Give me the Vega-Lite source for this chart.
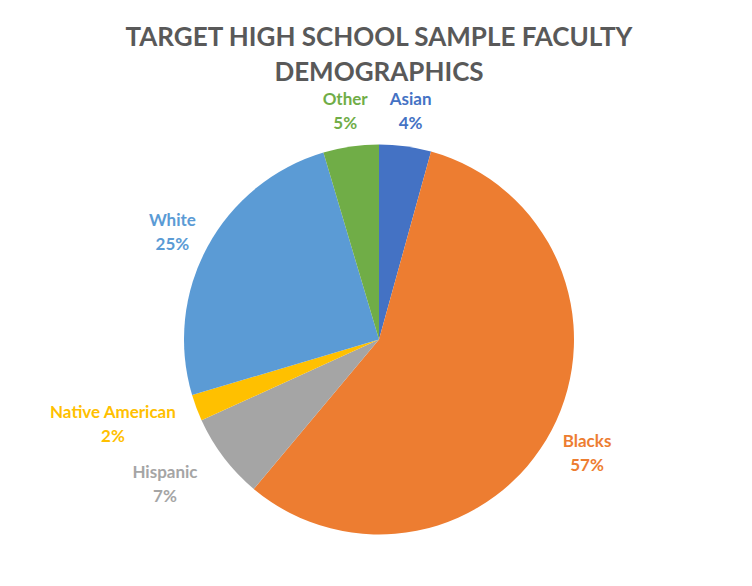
{
  "$schema": "https://vega.github.io/schema/vega-lite/v6.json",
  "width": 752,
  "height": 586,
  "autosize": {"type": "fit", "contains": "padding"},
  "padding": {"left": 6, "top": 29, "right": 0, "bottom": 0},
  "background": "white",
  "title": {
    "text": ["TARGET HIGH SCHOOL SAMPLE FACULTY", "DEMOGRAPHICS"],
    "font": "Lato",
    "fontSize": 26,
    "fontWeight": "bold",
    "color": "#595959",
    "lineHeight": 35,
    "anchor": "middle",
    "offset": 3
  },
  "config": {"view": {"stroke": null}},
  "data": {
    "values": [
      {"category": "Asian", "value": 4.3, "rank": 1},
      {"category": "Blacks", "value": 56.8, "rank": 2},
      {"category": "Hispanic", "value": 7.1, "rank": 3},
      {"category": "Native American", "value": 2.2, "rank": 4},
      {"category": "White", "value": 25.0, "rank": 5},
      {"category": "Other", "value": 4.6, "rank": 6}
    ]
  },
  "transform": [
    {"calculate": "datum.category + '\\n' + format(datum.value, '.0f') + '%'", "as": "label"}
  ],
  "encoding": {
    "theta": {"field": "value", "type": "quantitative", "stack": true},
    "order": {"field": "rank", "type": "quantitative"},
    "color": {
      "field": "category",
      "type": "nominal",
      "legend": null,
      "scale": {
        "domain": ["Asian", "Blacks", "Hispanic", "Native American", "White", "Other"],
        "range": ["#4472C4", "#ED7D31", "#A5A5A5", "#FFC000", "#5B9BD5", "#70AD47"]
      }
    }
  },
  "layer": [
    {"mark": {"type": "arc", "outerRadius": 195}},
    {
      "mark": {"type": "text", "radius": 235, "dy": -7, "font": "Lato", "fontSize": 17, "fontWeight": "bold", "lineBreak": "\n", "lineHeight": 24, "align": "center", "baseline": "middle"},
      "encoding": {
        "text": {"field": "label"},
        "opacity": {"condition": {"test": "datum.category != 'Hispanic' && datum.category != 'Native American'", "value": 1}, "value": 0}
      }
    },
    {
      "mark": {"type": "text", "radius": 235, "dx": -27, "dy": -9, "font": "Lato", "fontSize": 17, "fontWeight": "bold", "lineBreak": "\n", "lineHeight": 24, "align": "center", "baseline": "middle"},
      "encoding": {
        "text": {"field": "label"},
        "opacity": {"condition": {"test": "datum.category == 'Hispanic'", "value": 1}, "value": 0}
      }
    },
    {
      "mark": {"type": "text", "radius": 235, "dx": -46, "dy": -9, "font": "Lato", "fontSize": 17, "fontWeight": "bold", "lineBreak": "\n", "lineHeight": 24, "align": "center", "baseline": "middle"},
      "encoding": {
        "text": {"field": "label"},
        "opacity": {"condition": {"test": "datum.category == 'Native American'", "value": 1}, "value": 0}
      }
    }
  ]
}
